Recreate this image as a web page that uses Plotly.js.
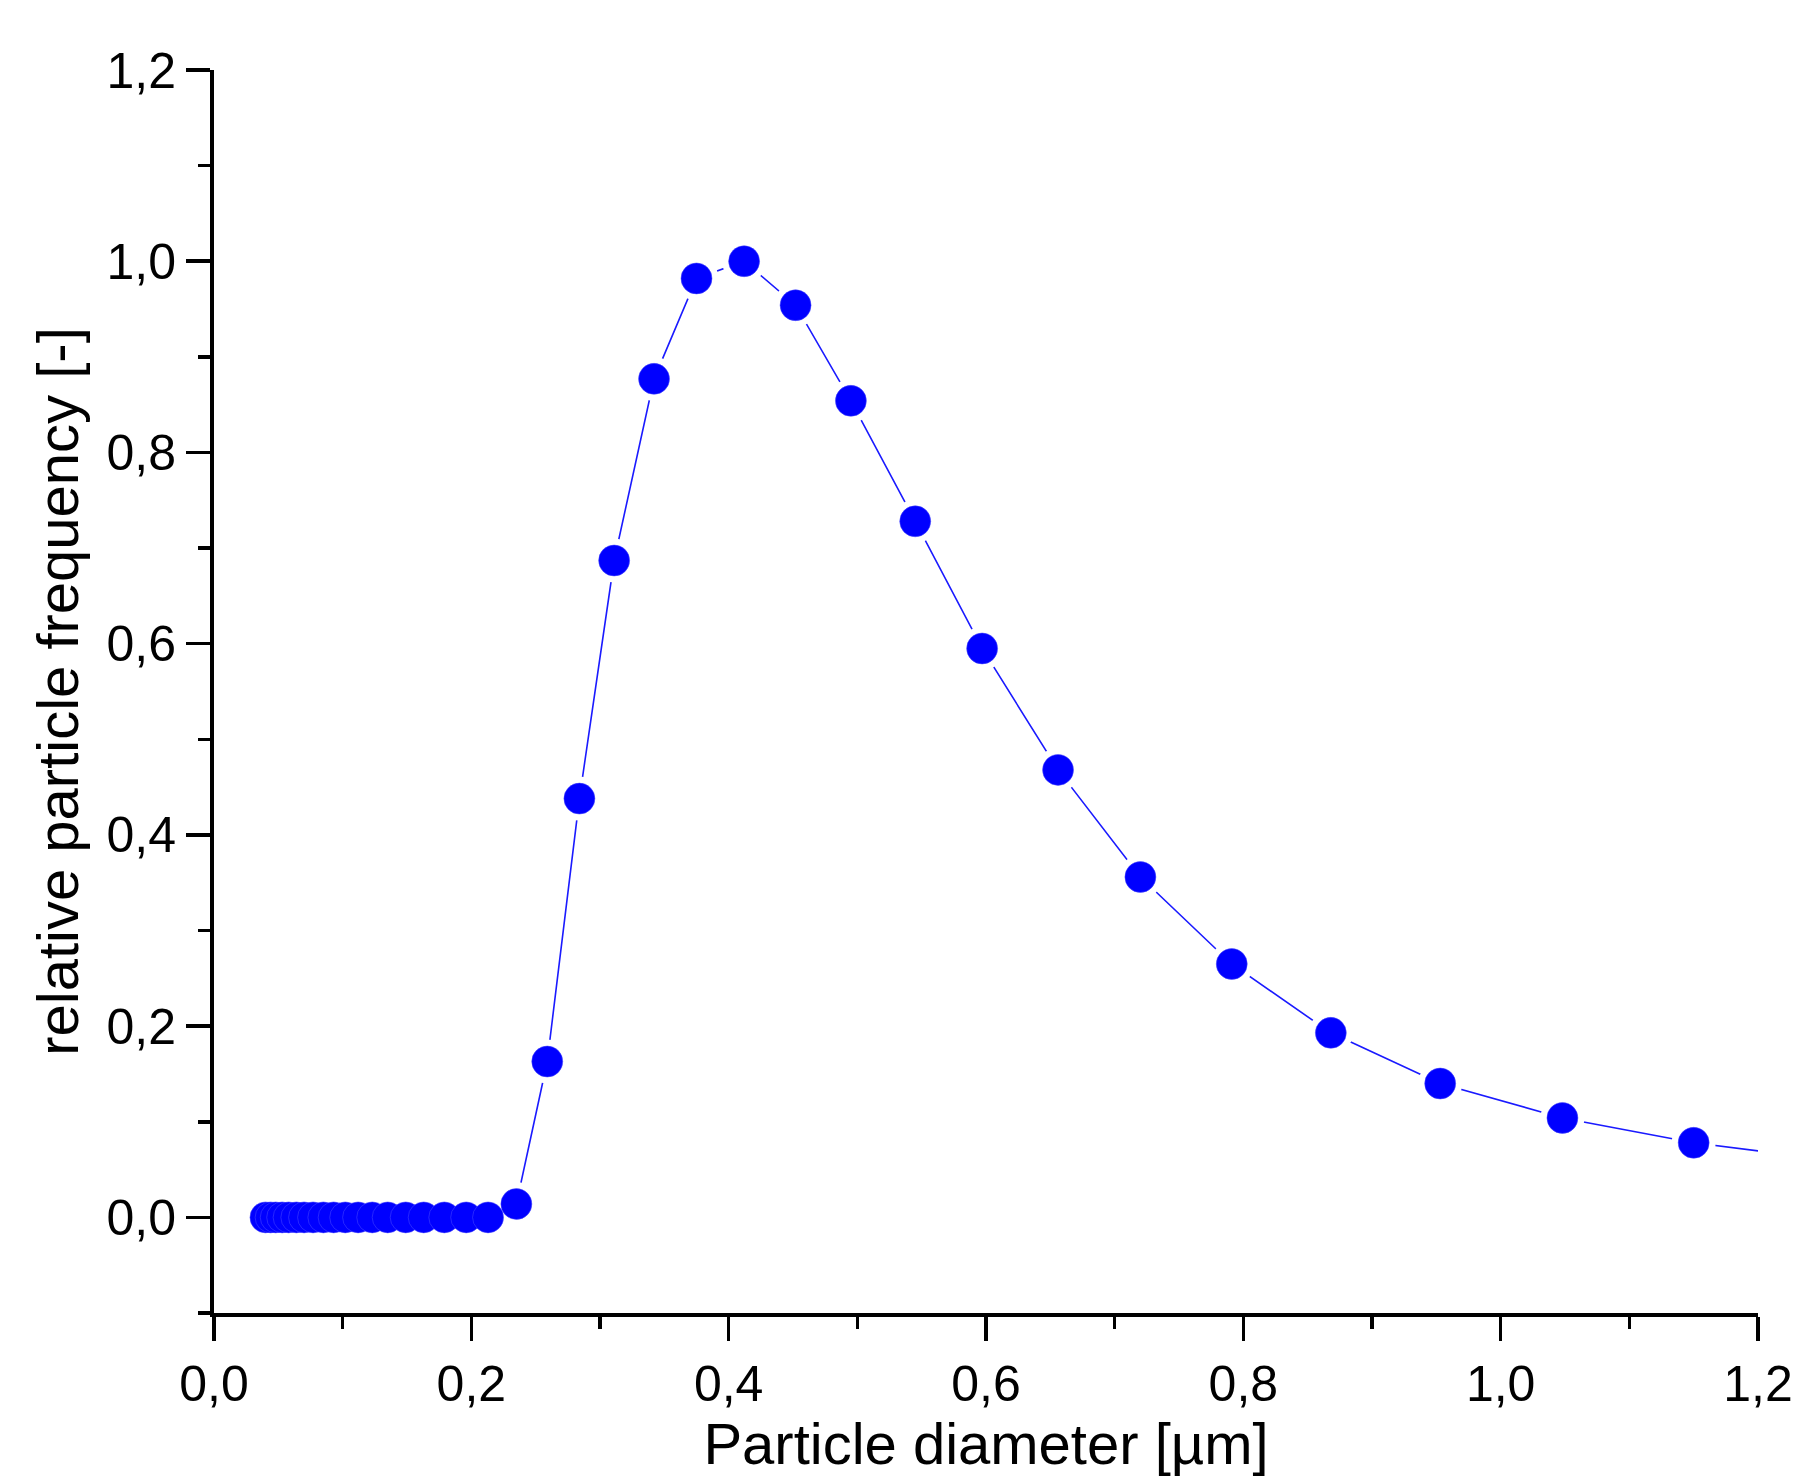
<!DOCTYPE html>
<html>
<head>
<meta charset="utf-8">
<script src="https://cdn.plot.ly/plotly-3.0.1.min.js"></script>
<style>html,body{margin:0;padding:0;background:#fff;}#chart{width:1794px;height:1476px;}</style>
</head>
<body>
<div id="chart"></div>
<script>
// Particle diameter [µm]
const diameter = [
  0.040, 0.044, 0.048, 0.053, 0.058, 0.064, 0.070, 0.077, 0.085, 0.093,
  0.102, 0.112, 0.123, 0.135, 0.149, 0.163, 0.179, 0.196, 0.213,
  0.235, 0.259, 0.284, 0.311, 0.342, 0.375, 0.412, 0.452, 0.495, 0.545,
  0.597, 0.656, 0.720, 0.791, 0.868, 0.953, 1.048, 1.150, 1.262
];
// relative particle frequency [-]
const frequency = [
  0, 0, 0, 0, 0, 0, 0, 0, 0, 0,
  0, 0, 0, 0, 0, 0, 0, 0, 0,
  0.014, 0.163, 0.438, 0.687, 0.877, 0.982, 1.000, 0.954, 0.854, 0.728,
  0.595, 0.468, 0.356, 0.265, 0.193, 0.140, 0.104, 0.078, 0.059
];
const xTickVals = [0, 0.2, 0.4, 0.6, 0.8, 1.0, 1.2];
const yTickVals = [0, 0.2, 0.4, 0.6, 0.8, 1.0, 1.2];

const FONT = 'Liberation Sans, Arial, Helvetica, sans-serif';

const traces = [
  { x: diameter, y: frequency, type: 'scatter', mode: 'lines',
    line: { color: '#1a1aff', width: 1.6 }, hoverinfo: 'skip', showlegend: false },
  { x: diameter, y: frequency, type: 'scatter', mode: 'markers',
    marker: { color: '#ffffff', size: 44, line: { width: 0 } }, hoverinfo: 'skip', showlegend: false },
  { x: diameter, y: frequency, type: 'scatter', mode: 'markers',
    marker: { color: '#0000ff', size: 31, line: { width: 0.5, color: '#4d4dff' } }, showlegend: false }
];

const axisCommon = {
  showgrid: false, zeroline: false, showline: true, linecolor: '#000', linewidth: 4,
  ticks: 'outside', ticklen: 24, tickwidth: 3.5, tickcolor: '#000',
  tickfont: { family: FONT, size: 50, color: '#000' },
  tickformat: '.1f', mirror: false, fixedrange: true
};

const layout = {
  width: 1794, height: 1476,
  margin: { l: 214, r: 36, t: 70, b: 163, pad: 0 },
  paper_bgcolor: '#fff', plot_bgcolor: '#fff',
  separators: ',.',
  font: { family: FONT, color: '#000' },
  xaxis: Object.assign({}, axisCommon, {
    range: [0, 1.2], tickmode: 'array', tickvals: xTickVals,
    minor: { ticks: 'outside', ticklen: 12, tickwidth: 3.5, tickcolor: '#000', dtick: 0.1, tick0: 0, showgrid: false },
    title: { text: 'Particle diameter [µm]', font: { family: FONT, size: 58, color: '#000' }, standoff: 10 }
  }),
  yaxis: Object.assign({}, axisCommon, {
    range: [-0.1, 1.2], tickmode: 'array', tickvals: yTickVals,
    minor: { ticks: 'outside', ticklen: 12, tickwidth: 3.5, tickcolor: '#000', dtick: 0.1, tick0: 0, showgrid: false },
    title: { text: 'relative particle frequency [-]', font: { family: FONT, size: 58, color: '#000' }, standoff: 10 }
  }),
  showlegend: false
};

Plotly.newPlot('chart', traces, layout, { displayModeBar: false, staticPlot: true });
</script>
</body>
</html>
